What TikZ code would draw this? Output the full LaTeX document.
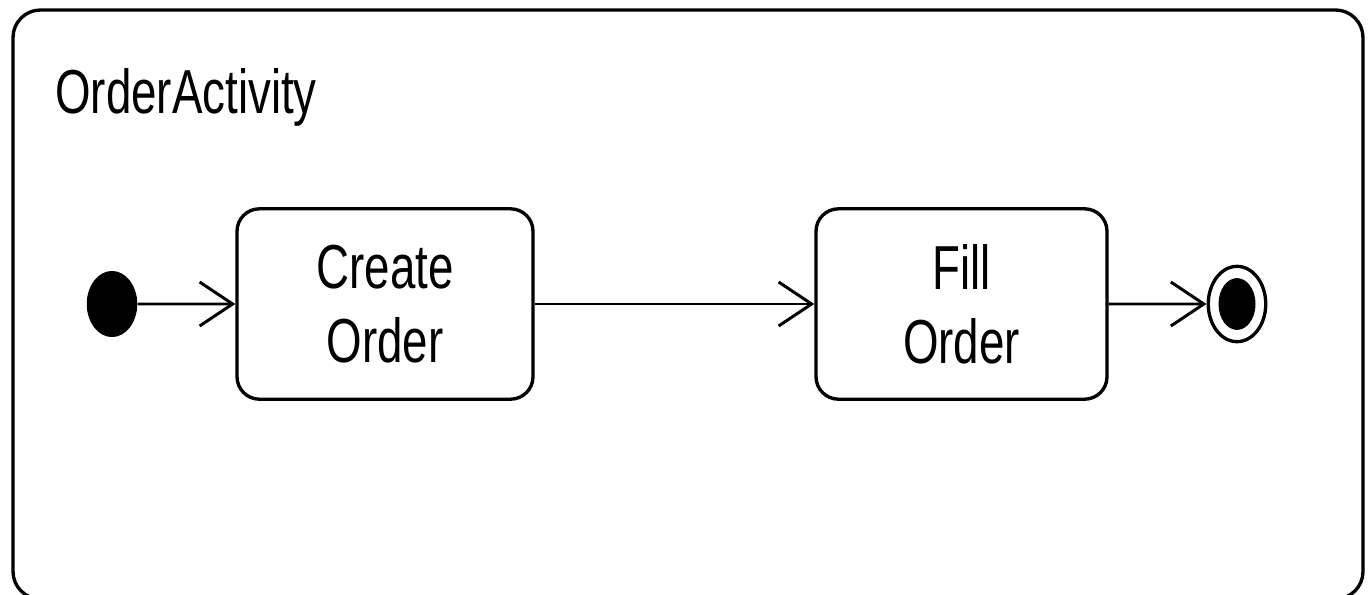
\documentclass[tikz,border=0pt]{standalone}
\usepackage{fontspec}
\setmainfont{Liberation Sans}
\usetikzlibrary{arrows.meta}
\newcommand{\umlfont}{\fontsize{26}{31}\selectfont}
\tikzset{
  action/.style={draw, line width=1.9pt, rounded corners=0.45cm, minimum height=2.8cm,
    align=center, inner sep=0pt, yscale=1.36, font=\umlfont},
  initnode/.style={circle, fill=black, inner sep=0pt, minimum size=1.01cm, yscale=1.31},
  finalnode/.style={circle, draw, line width=1.9pt, inner sep=0pt, minimum size=1.15cm, yscale=1.31},
  finalcore/.style={circle, fill=black, inner sep=0pt, minimum size=0.74cm, yscale=1.4},
  flow/.style={-{Straight Barb[length=0.66cm, width=0.88cm, line width=1.7pt]}, line width=1.7pt}
}
\begin{document}
\begin{tikzpicture}
    \useasboundingbox (0,0) rectangle (27.4,11.88);

    % アクティビティの枠
    \draw[line width=1.9pt, rounded corners=0.55cm] (0.26,-0.1) rectangle (27.26,11.68);
    \node[anchor=base west, inner sep=0pt, yscale=1.36, font=\umlfont] (title) at (1.1,9.62) {OrderActivity};

    % 開始ノード
    \node[initnode] (start) at (2.24,5.8) {};

    % アクション
    \node[action, minimum width=5.92cm] (create) at (7.7,5.8) {Create\\Order};
    \node[action, minimum width=5.82cm] (fill) at (19.23,5.8) {Fill\\Order};

    % 終了ノード
    \node[finalnode] (end) at (24.74,5.8) {};
    \node[finalcore] (endcore) at (end.center) {};

    % 遷移
    \draw[flow] (start) -- (create);
    \draw[flow] (create) -- (fill);
    \draw[flow] (fill) -- (end);
  \end{tikzpicture}
\end{document}
